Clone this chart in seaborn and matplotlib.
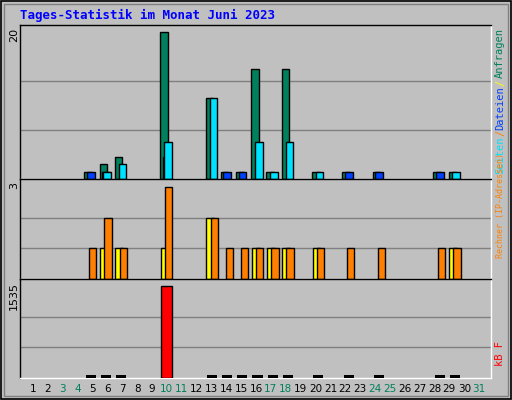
import matplotlib
matplotlib.use("Agg")
import matplotlib.pyplot as plt
import seaborn as sns
import numpy as np

sns.set_theme(style="white")
plt.rcParams['font.family'] = ['DejaVu Sans Mono', 'DejaVu Sans']

days = list(range(1, 32))
weekend = [3, 4, 10, 11, 17, 18, 24, 25, 31]
hits = {5: 1, 6: 2, 7: 3, 10: 20, 13: 11, 14: 1, 15: 1, 16: 15, 17: 1, 18: 15, 20: 1, 22: 1, 24: 1, 28: 1, 29: 1}
files = {5: 1, 6: 1, 10: 3, 14: 1, 15: 1, 22: 1, 24: 1, 28: 1}
pages = {6: 1, 7: 2, 10: 5, 13: 11, 16: 5, 17: 1, 18: 5, 20: 1, 29: 1}
visits = {6: 1, 7: 1, 10: 1, 13: 2, 16: 1, 17: 1, 18: 1, 20: 1, 29: 1}
sites = {5: 1, 6: 2, 7: 1, 10: 3, 13: 2, 14: 1, 15: 1, 16: 1, 17: 1, 18: 1, 20: 1, 22: 1, 24: 1, 28: 1, 29: 1}
kbytes = {5: 5, 6: 5, 7: 5, 10: 1535, 13: 5, 14: 5, 15: 5, 16: 5, 17: 5, 18: 5, 20: 5, 22: 5, 24: 5, 28: 5, 29: 5}

BG = "#c0c0c0"
fig = plt.figure(figsize=(5.12, 4.0), dpi=100, facecolor=BG)
W, H = 512, 400

def mkax(top, bot):
    ax = fig.add_axes([20.3 / W, 1 - bot / H, (490.7 - 20.3) / W, (bot - top) / H])
    ax.set_facecolor(BG)
    ax.set_xlim(1, 32)
    ax.set_xticks([]); ax.set_yticks([])
    for s in ax.spines.values():
        s.set_color("black"); s.set_linewidth(1)
    ax.spines['bottom'].set_color("white")
    ax.spines['right'].set_color("white")
    return ax

def bars(ax, data, off, w, color):
    xs = [d + off for d in data]
    ax.bar(xs, list(data.values()), width=w, align='edge', color=color,
           edgecolor='black', linewidth=1, zorder=3)

ax1 = mkax(25, 179)
ax1.set_ylim(0, 20 * 154 / 147)
for g in [20 / 3, 40 / 3]:
    ax1.axhline(g, color="#808080", lw=1, zorder=1)
bars(ax1, hits, 0.22, 0.5, "#00805c")
bars(ax1, files, 0.38, 0.52, "#0040ff")
bars(ax1, pages, 0.48, 0.5, "#00e0ff")

ax2 = mkax(179, 279)
ax2.set_ylim(0, 3 * 100 / 92)
for g in [1, 2]:
    ax2.axhline(g, color="#808080", lw=1, zorder=1)
bars(ax2, visits, 0.27, 0.5, "#ffff00")
bars(ax2, sites, 0.54, 0.48, "#ff8000")

ax3 = mkax(279, 378)
ax3.set_ylim(0, 1535 * 99 / 92)
for g in [1535 / 3, 2 * 1535 / 3]:
    ax3.axhline(g, color="#808080", lw=1, zorder=1)
small = {d: v for d, v in kbytes.items() if v < 100}
big = {d: v for d, v in kbytes.items() if v >= 100}
ax3.bar([d + 0.3 for d in small], [45] * len(small), width=0.67, align='edge',
        color='black', linewidth=0, zorder=3)
bars(ax3, big, 0.29, 0.69, "#ff0000")

fig.text(20 / W, 1 - 15 / H, "Tages-Statistik im Monat Juni 2023", color="#0000ff",
         fontsize=9, fontweight='bold', va='center', ha='left')

for lbl, y in [("20", 28), ("3", 182), ("1535", 282)]:
    fig.text(14 / W, 1 - y / H, lbl, rotation=90, ha='center', va='top', fontsize=8, color='black',
             family='DejaVu Sans')

for d in days:
    px = 33 + (d - 1) * 14.87
    fig.text(px / W, 1 - 389 / H, str(d), ha='center', va='center', fontsize=7.5,
             color="#00805c" if d in weekend else "black", family='DejaVu Sans')

# right side labels
fig.text(500 / W, 1 - 28 / H, "Anfragen", rotation=90, ha='center', va='top', fontsize=7.5, color="#00805c")
fig.text(500 / W, 1 - 80 / H, "/", rotation=90, ha='center', va='top', fontsize=7.5, color="#ffff00")
fig.text(500 / W, 1 - 86 / H, "Dateien", rotation=90, ha='center', va='top', fontsize=7.5, color="#0040ff")
fig.text(500 / W, 1 - 130 / H, "/", rotation=90, ha='center', va='top', fontsize=7.5, color="#ff8000")
fig.text(500 / W, 1 - 136 / H, "Seiten", rotation=90, ha='center', va='top', fontsize=7.5, color="#00e0ff")
fig.text(500 / W, 1 - 258 / H, "Rechner (IP-Adressen)", rotation=90, ha='center', va='bottom', fontsize=6, color="#ff8000")
fig.text(500 / W, 1 - 366 / H, "kB F", rotation=90, ha='center', va='bottom', fontsize=7.5, color="#ff0000")

# outer frame
fig.patches.append(plt.Rectangle((1 / W, 1 / H), 1 - 2 / W, 1 - 2 / H, transform=fig.transFigure,
                                 fill=False, edgecolor='black', lw=1.2))
fig.patches.append(plt.Rectangle((4 / W, 4 / H), 1 - 8 / W, 1 - 8 / H, transform=fig.transFigure,
                                 fill=False, edgecolor='#808080', lw=1))

fig.savefig("out.png", dpi=100, facecolor=BG)
